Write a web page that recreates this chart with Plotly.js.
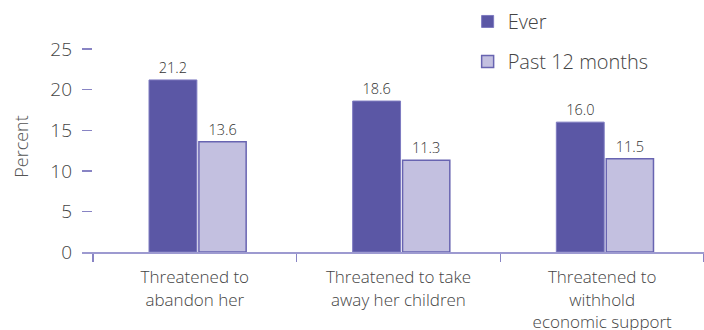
<!DOCTYPE html>
<html>
<head>
<meta charset="utf-8">
<script src="https://cdn.plot.ly/plotly-3.0.1.min.js"></script>
<style>html,body{margin:0;padding:0;background:#fff;}#chart{width:704px;height:330px;}</style>
</head>
<body>
<div id="chart"></div>
<script>
const categories = [
  "Threatened to<br>abandon her",
  "Threatened to take<br>away her children",
  "Threatened to<br>withhold<br>economic support"
];
const everValues = [21.2, 18.6, 16.0];
const past12Values = [13.6, 11.3, 11.5];
const seriesNames = ["Ever", "Past 12 months"];
const yTickVals = [0, 5, 10, 15, 20, 25];

const FONT = "Open Sans, sans-serif";
const W = 300;

const traces = [
  {
    type: "bar", name: seriesNames[0], x: categories, y: everValues,
    marker: {color: "#5b57a5", line: {color: "#7d7ac0", width: 1}},
    texttemplate: "%{y:.1f}", textposition: "outside",
    textfont: {family: FONT, size: 14.5, color: "#333", weight: W},
    cliponaxis: false, legendgroup: "a", offset: -0.225, width: 0.235
  },
  {
    type: "bar", name: seriesNames[1], x: categories, y: past12Values,
    marker: {color: "#c3c0e0", line: {color: "#6864b1", width: 1.5}},
    texttemplate: "%{y:.1f}", textposition: "outside",
    textfont: {family: FONT, size: 14.5, color: "#333", weight: W},
    cliponaxis: false, legendgroup: "b", offset: 0.02, width: 0.232
  }
];

const layout = {
  width: 704, height: 330,
  margin: {l: 82, r: 0, t: 41, b: 78},
  paper_bgcolor: "#fff", plot_bgcolor: "#fff",
  font: {family: FONT, color: "#444", weight: W},
  barmode: "group",
  showlegend: true,
  legend: {
    x: 0.62, xanchor: "left", y: 1.185, yanchor: "top",
    font: {family: FONT, size: 20, color: "#444", weight: W},
    traceorder: "grouped", tracegroupgap: 11, bgcolor: "rgba(0,0,0,0)"
  },
  xaxis: {
    type: "category", range: [-0.554, 2.5],
    showline: true, linecolor: "#9d9ad0", linewidth: 2,
    ticks: "outside", tickson: "boundaries", ticklen: 8, tickcolor: "#8884c4", tickwidth: 1.5,
    showgrid: false, zeroline: false,
    tickfont: {family: FONT, size: 17, color: "#444", weight: W},
    ticklabelstandoff: 9
  },
  yaxis: {
    range: [0, 26], tickvals: yTickVals,
    showline: false, showgrid: false, zeroline: false,
    ticks: "inside", ticklen: 10, tickcolor: "#8884c4", tickwidth: 1.5,
    tickfont: {family: FONT, size: 19, color: "#444", weight: W},
    ticklabelstandoff: 9,
    title: {text: "Percent", font: {family: FONT, size: 18, color: "#555", weight: W}, standoff: 16}
  }
};

Plotly.newPlot("chart", traces, layout, {displayModeBar: false, staticPlot: true});
</script>
</body>
</html>
